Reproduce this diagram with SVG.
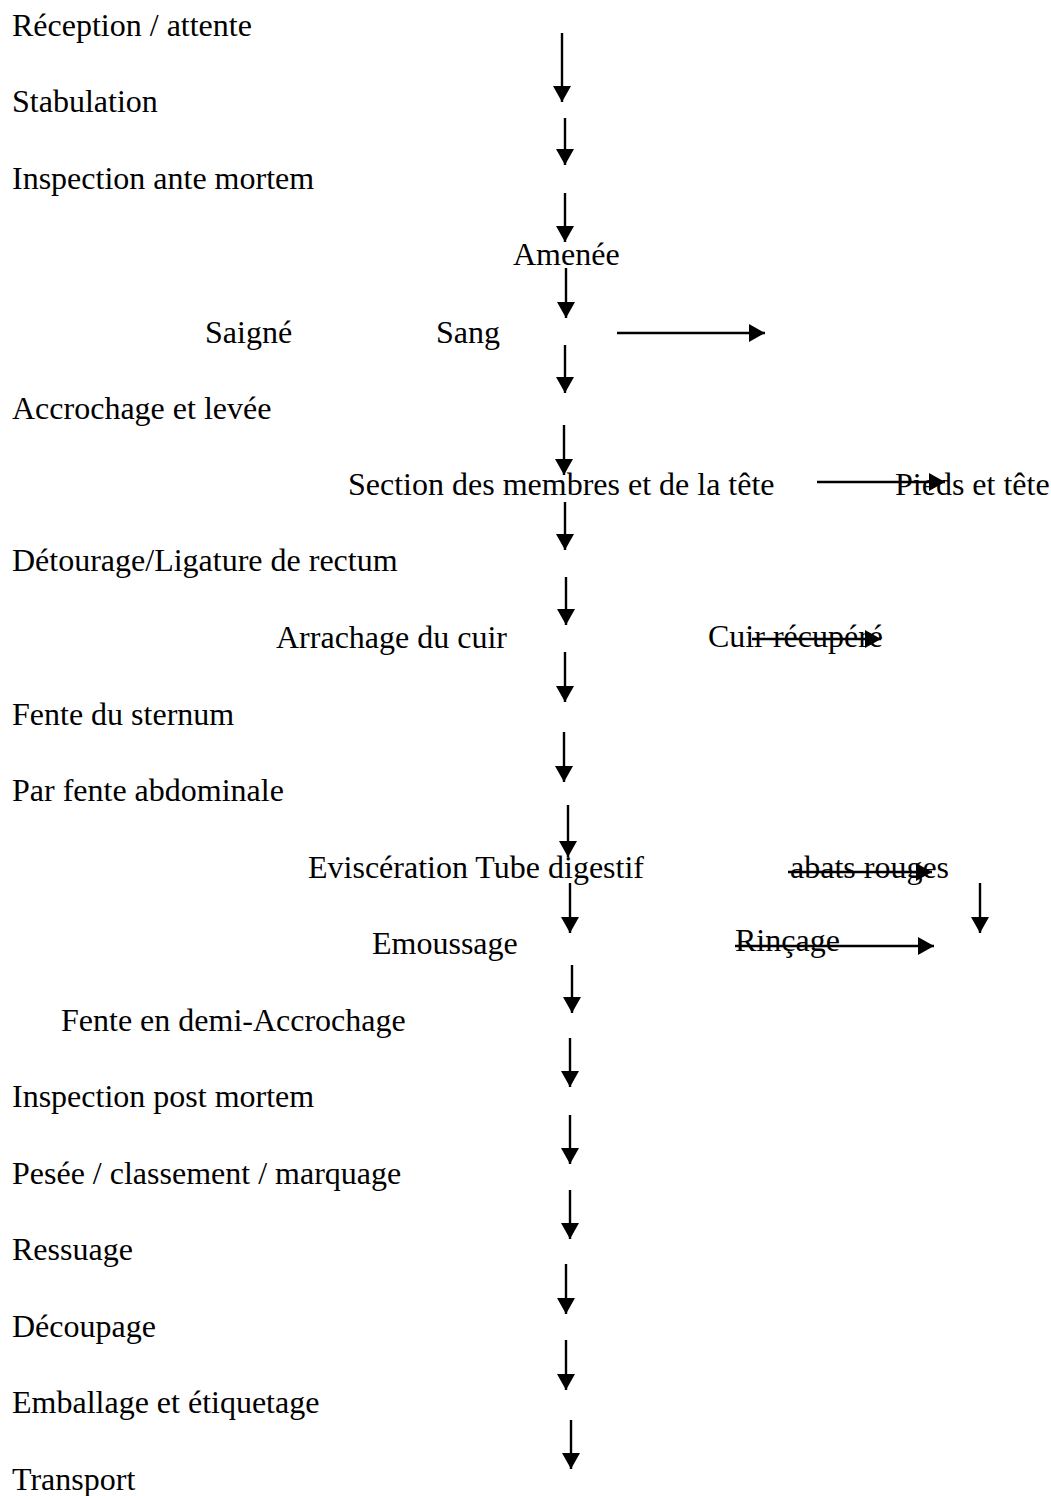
<svg xmlns="http://www.w3.org/2000/svg" width="1051" height="1496" viewBox="0 0 1051 1496">
  <defs>
    <marker id="head" viewBox="0 0 16 18" refX="16" refY="9" markerWidth="16" markerHeight="18" markerUnits="userSpaceOnUse" orient="auto">
      <path d="M0,0 L16,9 L0,18 Z" fill="#000"/>
    </marker>
    <style>
      text { font-family: "Liberation Serif", "Times New Roman", serif; font-size: 32px; fill: #000; }
      .arrow { stroke: #000; stroke-width: 2.4; fill: none; marker-end: url(#head); }
    </style>
  </defs>
  <rect width="1051" height="1496" fill="#fff"/>

  <!-- process steps -->
  <g id="n-reception"><text x="12" y="36">Réception / attente</text></g>
  <g id="n-stabulation"><text x="12" y="112">Stabulation</text></g>
  <g id="n-inspection-am"><text x="12" y="189">Inspection ante mortem</text></g>
  <g id="n-amenee"><text x="513" y="265">Amenée</text></g>
  <g id="n-saigne"><text x="205" y="343">Saigné</text></g>
  <g id="n-sang"><text x="436" y="343">Sang</text></g>
  <g id="n-accrochage"><text x="12" y="419">Accrochage et levée</text></g>
  <g id="n-section"><text x="348" y="495">Section des membres et de la tête</text></g>
  <g id="n-pieds"><text x="895" y="495">Pieds et tête</text></g>
  <g id="n-detourage"><text x="12" y="571">Détourage/Ligature de rectum</text></g>
  <g id="n-arrachage"><text x="276" y="648">Arrachage du cuir</text></g>
  <g id="n-cuir"><text x="708" y="647">Cuir récupéré</text></g>
  <g id="n-sternum"><text x="12" y="725">Fente du sternum</text></g>
  <g id="n-abdominale"><text x="12" y="801">Par fente abdominale</text></g>
  <g id="n-evisceration"><text x="308" y="878">Eviscération Tube digestif</text></g>
  <g id="n-abats"><text x="790" y="878">abats rouges</text></g>
  <g id="n-emoussage"><text x="372" y="954">Emoussage</text></g>
  <g id="n-rincage"><text x="735" y="951">Rinçage</text></g>
  <g id="n-fente-demi"><text x="61" y="1031">Fente en demi-Accrochage</text></g>
  <g id="n-inspection-pm"><text x="12" y="1107">Inspection post mortem</text></g>
  <g id="n-pesee"><text x="12" y="1184">Pesée / classement / marquage</text></g>
  <g id="n-ressuage"><text x="12" y="1260">Ressuage</text></g>
  <g id="n-decoupage"><text x="12" y="1337">Découpage</text></g>
  <g id="n-emballage"><text x="12" y="1413">Emballage et étiquetage</text></g>
  <g id="n-transport"><text x="12" y="1490">Transport</text></g>

  <!-- connectors -->
  <g id="connectors">
    <line class="arrow" x1="562" y1="33" x2="562" y2="102"/>
    <line class="arrow" x1="565" y1="118" x2="565" y2="165"/>
    <line class="arrow" x1="565" y1="193" x2="565" y2="242"/>
    <line class="arrow" x1="566" y1="268" x2="566" y2="318"/>
    <line class="arrow" x1="565" y1="345" x2="565" y2="393"/>
    <line class="arrow" x1="564" y1="425" x2="564" y2="475"/>
    <line class="arrow" x1="565" y1="502" x2="565" y2="550"/>
    <line class="arrow" x1="566" y1="577" x2="566" y2="625"/>
    <line class="arrow" x1="565" y1="652" x2="565" y2="702"/>
    <line class="arrow" x1="564" y1="732" x2="564" y2="782"/>
    <line class="arrow" x1="568" y1="805" x2="568" y2="857"/>
    <line class="arrow" x1="570" y1="883" x2="570" y2="933"/>
    <line class="arrow" x1="572" y1="965" x2="572" y2="1013"/>
    <line class="arrow" x1="570" y1="1038" x2="570" y2="1087"/>
    <line class="arrow" x1="570" y1="1115" x2="570" y2="1164"/>
    <line class="arrow" x1="570" y1="1190" x2="570" y2="1239"/>
    <line class="arrow" x1="566" y1="1264" x2="566" y2="1314"/>
    <line class="arrow" x1="566" y1="1340" x2="566" y2="1390"/>
    <line class="arrow" x1="571" y1="1420" x2="571" y2="1469"/>

    <line class="arrow" x1="617" y1="333" x2="765" y2="333"/>
    <line class="arrow" x1="817" y1="482" x2="945" y2="482"/>
    <line class="arrow" x1="752" y1="639" x2="881" y2="639"/>
    <line class="arrow" x1="788" y1="872" x2="932" y2="872"/>
    <line class="arrow" x1="735" y1="946" x2="934" y2="946"/>
    <line class="arrow" x1="980" y1="883" x2="980" y2="933"/>
  </g>
</svg>
